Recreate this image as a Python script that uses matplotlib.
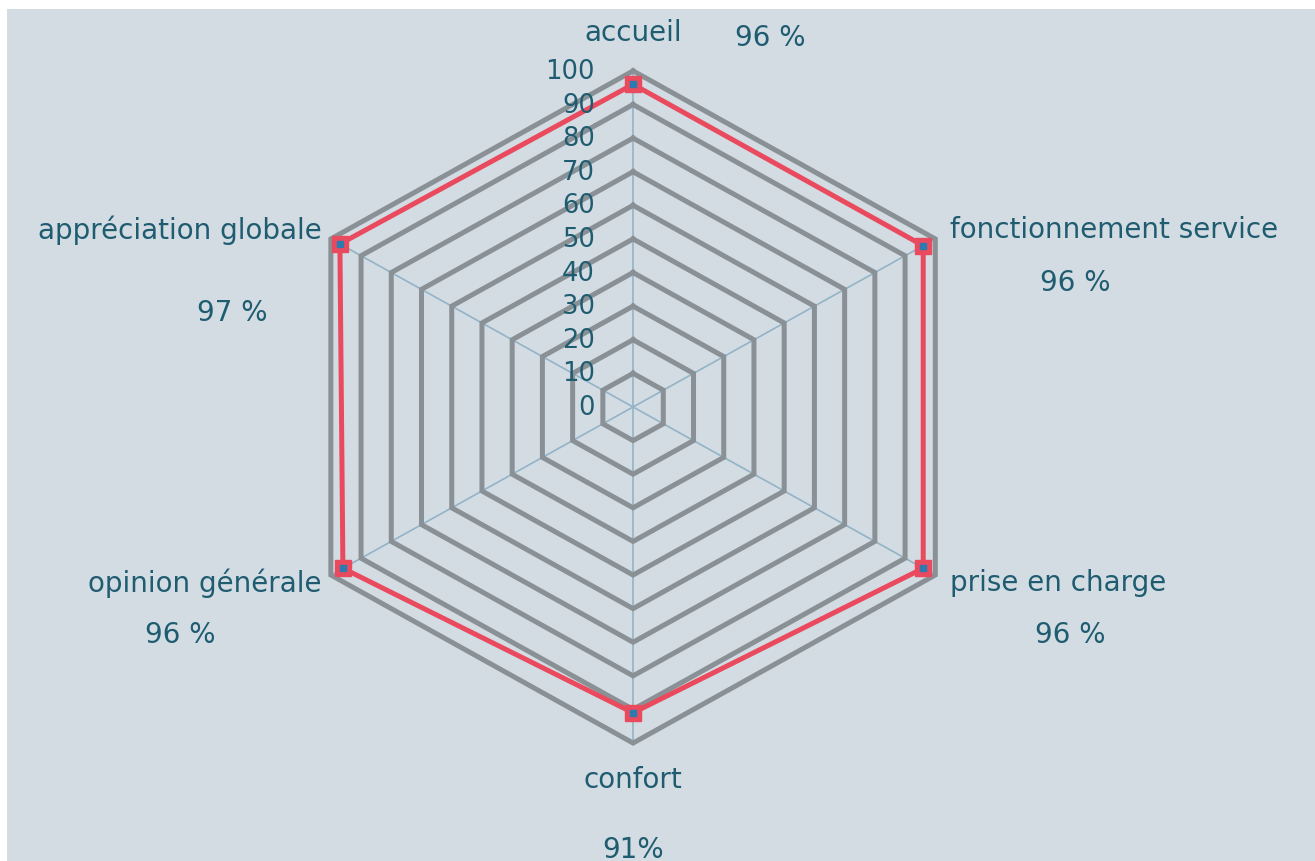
"""Radar chart: satisfaction par thème."""
import numpy as np
import matplotlib.pyplot as plt
from matplotlib.patches import Rectangle

categories = ["accueil", "fonctionnement service", "prise en charge",
              "confort", "opinion générale", "appréciation globale"]
values = [96, 96, 96, 91, 96, 97]
pct_labels = ["96 %", "96 %", "96 %", "91%", "96 %", "97 %"]
ticks = [0, 10, 20, 30, 40, 50, 60, 70, 80, 90, 100]

# layout (pixel offsets from the outer vertex)
lab_off = [(0, 39), (15, 10), (15, -7), (0, -36), (-9, -7), (-9, 10)]
lab_ha = ["center", "left", "left", "center", "right", "right"]
pct_off = [(137, 34), (140, -43), (135, -59), (0, -106), (-151, -59), (-99, -73)]

BG = "#d3dce3"
GRID = "#8a9196"
SPOKE = "#93b3c6"
RED = "#ea4a5e"
BLUE = "#2c7bb0"
TXT = "#1f5c70"
FS = 20

angles = np.deg2rad(90 - 60 * np.arange(len(categories)))

fig = plt.figure(figsize=(13.15, 8.62), dpi=100)
fig.patch.set_facecolor("white")
fig.patches.append(Rectangle((7 / 1315, 0), 1, 1 - 10 / 862, transform=fig.transFigure,
                             facecolor=BG, edgecolor="none", zorder=-5))
ax = fig.add_axes([0, 0, 1, 1])
ax.set_zorder(2)
ax.set_facecolor("none")
ax.axis("off")
ax.set_xlim(-181.4, 195.4)
ax.set_ylim(-135.1, 121.4)

ca, sa = np.cos(angles), np.sin(angles)
ca_c, sa_c = np.append(ca, ca[0]), np.append(sa, sa[0])

# spokes
for c, s in zip(ca, sa):
    ax.plot([0, 100 * c], [0, 100 * s], color=SPOKE, lw=1.2, zorder=1)

# hexagonal rings
for t in ticks[1:]:
    ax.plot(t * ca_c, t * sa_c, color=GRID, lw=3.6, solid_joinstyle="miter", zorder=2)

# tick labels
for t in ticks:
    ax.annotate(str(t), (0, t), xytext=(-38, 0), textcoords="offset pixels",
                ha="right", va="center", fontsize=18.5, color=TXT, zorder=5)

# data series
v = np.array(values, dtype=float)
vx, vy = v * ca, v * sa
ax.plot(np.append(vx, vx[0]), np.append(vy, vy[0]), color=RED, lw=3.6,
        solid_joinstyle="miter", zorder=3)
ax.plot(vx, vy, ls="none", marker="s", ms=11, mfc=RED, mec=RED, zorder=4)
ax.plot(vx, vy, ls="none", marker="s", ms=4.5, mfc=BLUE, mec=BLUE, zorder=5)

# category + percent labels
for i, cat in enumerate(categories):
    p = (100 * ca[i], 100 * sa[i])
    ax.annotate(cat, p, xytext=lab_off[i], textcoords="offset pixels",
                ha=lab_ha[i], va="center", fontsize=FS, color=TXT)
    ax.annotate(pct_labels[i], p, xytext=pct_off[i], textcoords="offset pixels",
                ha="center", va="center", fontsize=FS, color=TXT)

fig.savefig("out.png", dpi=100, facecolor=fig.get_facecolor())
